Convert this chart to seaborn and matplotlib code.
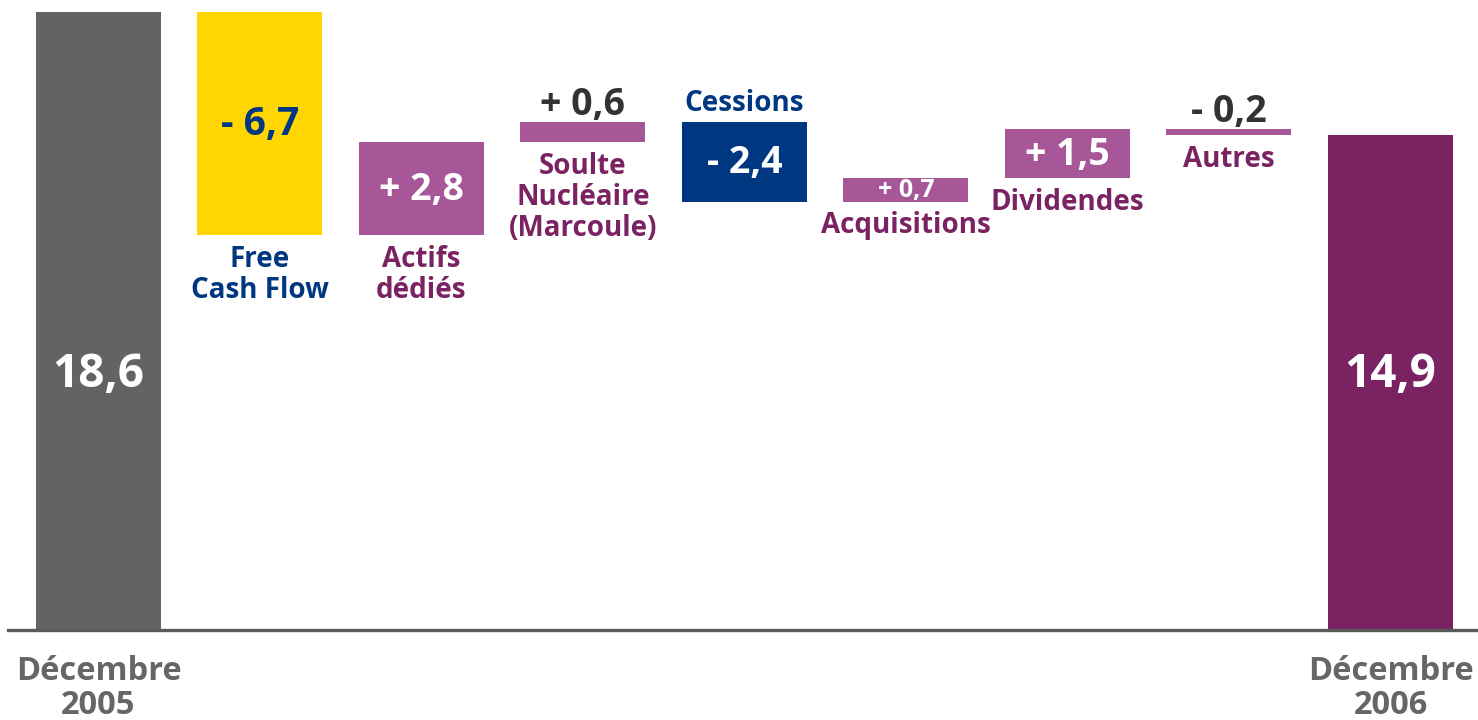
import numpy as np
import pandas as pd
import matplotlib.pyplot as plt
import seaborn as sns

# --- data ---
categories = ["Décembre 2005", "Free Cash Flow", "Actifs dédiés",
              "Soulte Nucléaire (Marcoule)", "Cessions", "Acquisitions",
              "Dividendes", "Autres", "Décembre 2006"]
start_value = 18.6
deltas = [-6.7, 2.8, 0.6, -2.4, 0.7, 1.5, -0.2]
end_value = 14.9
value_labels = ["18,6", "- 6,7", "+ 2,8", "+ 0,6", "- 2,4", "+ 0,7", "+ 1,5", "- 0,2", "14,9"]
step_names = [None, "Free\nCash Flow", "Actifs\ndédiés", "Soulte\nNucléaire\n(Marcoule)",
              "Cessions", "Acquisitions", "Dividendes", "Autres", None]
tick_labels = ["Décembre\n2005", "", "", "", "", "", "", "", "Décembre\n2006"]

# --- styles ---
GREY = "#636363"
YELLOW = "#FFD600"
LILAC = "#A75797"
NAVY = "#003781"
PLUM = "#7B2262"
DARK = "#333333"
bar_colors = [GREY, YELLOW, LILAC, LILAC, NAVY, LILAC, LILAC, LILAC, PLUM]
value_where = ["total", "in", "in", "above", "in", "in", "in", "above", "total"]
value_sizes = [33, 28, 27, 27, 27, 18, 27, 27, 33]
value_colors = ["white", NAVY, "white", DARK, "white", "white", "white", DARK, "white"]
name_where = [None, "below", "below", "below", "above", "below", "below", "below", None]
name_colors = [None, NAVY, PLUM, PLUM, NAVY, PLUM, PLUM, PLUM, None]

# waterfall geometry
levels = start_value + np.cumsum(deltas)
before = np.concatenate([[start_value], levels[:-1]])
bottoms = np.concatenate([[0], np.minimum(before, levels), [0]])
heights = np.concatenate([[start_value], np.abs(deltas), [end_value]])
df = pd.DataFrame({"category": categories, "height": heights, "bottom": bottoms})

sns.set_theme(style="white")
plt.rcParams["font.family"] = ["Open Sans", "DejaVu Sans"]
plt.rcParams["font.weight"] = "bold"

fig = plt.figure(figsize=(14.78, 7.2), dpi=100)
ax = fig.add_axes([8 / 1478, 90 / 720, 1470 / 1478, 630 / 720])

sns.barplot(data=df, x="category", y="height", order=categories,
            bottom=df["bottom"].values, width=0.774, errorbar=None,
            color=GREY, linewidth=0, ax=ax)
for patch, c in zip(ax.patches, bar_colors):
    patch.set_facecolor(c)
    patch.set_edgecolor(c)

ax.set_xlim(-0.56, 8.542)
ax.set_ylim(0, 18.97)

for i in range(len(categories)):
    b = df["bottom"][i]
    t = b + df["height"][i]
    size = value_sizes[i]
    # value label
    if value_where[i] == "total":
        ax.text(i, 7.7, value_labels[i], ha="center", va="center",
                fontsize=size, fontweight="bold", color=value_colors[i])
    elif value_where[i] == "in":
        # centre the digits (not the descender box) inside the bar
        ax.annotate(value_labels[i], (i, (b + t) / 2),
                    xytext=(0, -0.357 * size + 1.5), textcoords="offset points",
                    ha="center", va="baseline", fontsize=size, fontweight="bold",
                    color=value_colors[i])
    else:
        ax.annotate(value_labels[i], (i, t), xytext=(0, 5), textcoords="offset points",
                    ha="center", va="baseline", fontsize=size,
                    fontweight="bold", color=value_colors[i])
    # category label
    if name_where[i] == "below":
        ax.annotate(step_names[i], (i, b), xytext=(0, -7), textcoords="offset points",
                    ha="center", va="top", fontsize=20, fontweight="bold",
                    color=name_colors[i], linespacing=1.1)
    elif name_where[i] == "above":
        ax.annotate(step_names[i], (i, t), xytext=(0, 8), textcoords="offset points",
                    ha="center", va="baseline", fontsize=20, fontweight="bold",
                    color=name_colors[i])

ax.set_xlabel("")
ax.set_ylabel("")
ax.set_yticks([])
ax.set_xticks(range(len(categories)))
ax.set_xticklabels(tick_labels, fontsize=23.5, fontweight="bold", color="#666666",
                   linespacing=1.05)
ax.tick_params(axis="x", length=0, pad=18)
sns.despine(ax=ax, left=True)
ax.spines["bottom"].set_color("#5A5A5A")
ax.spines["bottom"].set_linewidth(2.4)

fig.savefig("out.png", dpi=100)
